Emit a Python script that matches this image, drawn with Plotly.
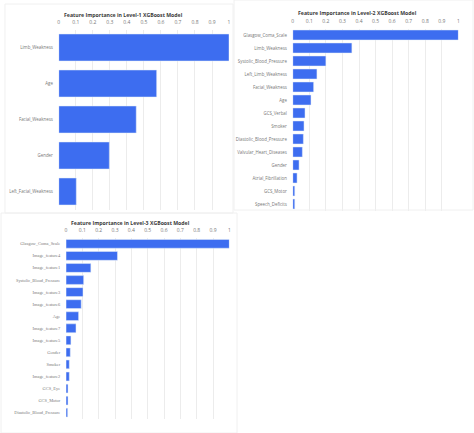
import plotly.graph_objects as go

# level-1 model
l1_features = ["Limb_Weakness", "Age", "Facial_Weakness", "Gender", "Left_Facial_Weakness"]
l1_importance = [1.0, 0.575, 0.455, 0.297, 0.103]

# level-2 model
l2_features = ["Glasgow_Coma_Scale", "Limb_Weakness", "Systolic_Blood_Pressure", "Left_Limb_Weakness",
               "Facial_Weakness", "Age", "GCS_Verbal", "Smoker", "Diastolic_Blood_Pressure",
               "Valvular_Heart_Diseases", "Gender", "Atrial_Fibrillation", "GCS_Motor", "Speech_Deficits"]
l2_importance = [1.0, 0.357, 0.20, 0.146, 0.126, 0.11, 0.074, 0.068, 0.064, 0.058, 0.038, 0.026, 0.012, 0.012]

# level-3 model
l3_features = ["Glasgow_Coma_Scale", "Image_feature4", "Image_feature1", "Systolic_Blood_Pressure",
               "Image_feature3", "Image_feature6", "Age", "Image_feature7", "Image_feature5", "Gender",
               "Smoker", "Image_feature2", "GCS_Eye", "GCS_Motor", "Diastolic_Blood_Pressure"]
l3_importance = [1.0, 0.315, 0.152, 0.108, 0.104, 0.093, 0.077, 0.061, 0.03, 0.026, 0.02, 0.02, 0.012, 0.012, 0.01]

titles = ["Feature Importance in Level-1 XGBoost Model",
          "Feature Importance in Level-2 XGBoost Model",
          "Feature Importance in Level-3 XGBoost Model"]

W, H = 474, 433
BAR = "#3d6df0"

def px(x):
    return x / W

def py(y):
    return 1 - y / H

panels = [
    # features, values, x0, x1, y_top, y_bottom, bargap, label font
    (l1_features, l1_importance, 58, 229, 29.5, 209.5, 0.25, "Open Sans"),
    (l2_features, l2_importance, 293, 459.3, 28.5, 210.5, 0.23, "Open Sans"),
    (l3_features, l3_importance, 65.3, 229.3, 237.8, 418.7, 0.27, "Liberation Serif"),
]

fig = go.Figure()
layout = {}
annotations = []

for i, (feats, vals, x0, x1, yt, yb, gap, lfont) in enumerate(panels):
    n = "" if i == 0 else str(i + 1)
    fig.add_trace(go.Bar(
        x=vals, y=feats, orientation="h", marker_color=BAR,
        xaxis="x" + n, yaxis="y" + n, width=1 - gap, showlegend=False,
    ))
    layout["xaxis" + n] = dict(
        domain=[px(x0), px(x1)], anchor="y" + n, side="top", range=[0, 1],
        dtick=0.1, tick0=0, showgrid=True, gridcolor="#ececec", gridwidth=1,
        zeroline=False, showline=False, ticks="outside", ticklen=3,
        tickcolor="rgba(0,0,0,0)", tickfont=dict(size=5, color="#777", family="Open Sans"),
        fixedrange=True,
    )
    layout["yaxis" + n] = dict(
        domain=[py(yb), py(yt)], anchor="x" + n, type="category",
        categoryorder="array", categoryarray=feats, autorange="reversed",
        showgrid=False, zeroline=False, showline=False, ticks="outside", ticklen=4,
        tickcolor="rgba(0,0,0,0)",
        tickfont=dict(size=4.4, color="#777", family=lfont),
    )
    annotations.append(dict(
        text="<b>" + titles[i] + "</b>", xref="paper", yref="paper",
        x=px(x0 + 3), y=py(yt - 15), xanchor="left", yanchor="middle",
        showarrow=False, font=dict(size=5.2, color="#3a3a3a", family="Open Sans"),
    ))

# faint panel frames
frames = [(4, 4, 233, 213), (234, 0, 474, 210), (0, 213, 237, 433)]
shapes = [dict(type="rect", xref="paper", yref="paper", x0=px(a), x1=px(c), y0=py(d), y1=py(b),
               line=dict(color="#f0f0f0", width=1)) for a, b, c, d in frames]

fig.update_layout(
    width=W, height=H, margin=dict(l=0, r=0, t=0, b=0),
    paper_bgcolor="white", plot_bgcolor="white",
    annotations=annotations, shapes=shapes, **layout,
)

fig.write_html("out.html", config={"displayModeBar": False},
               post_script="document.body.style.margin='0';")
